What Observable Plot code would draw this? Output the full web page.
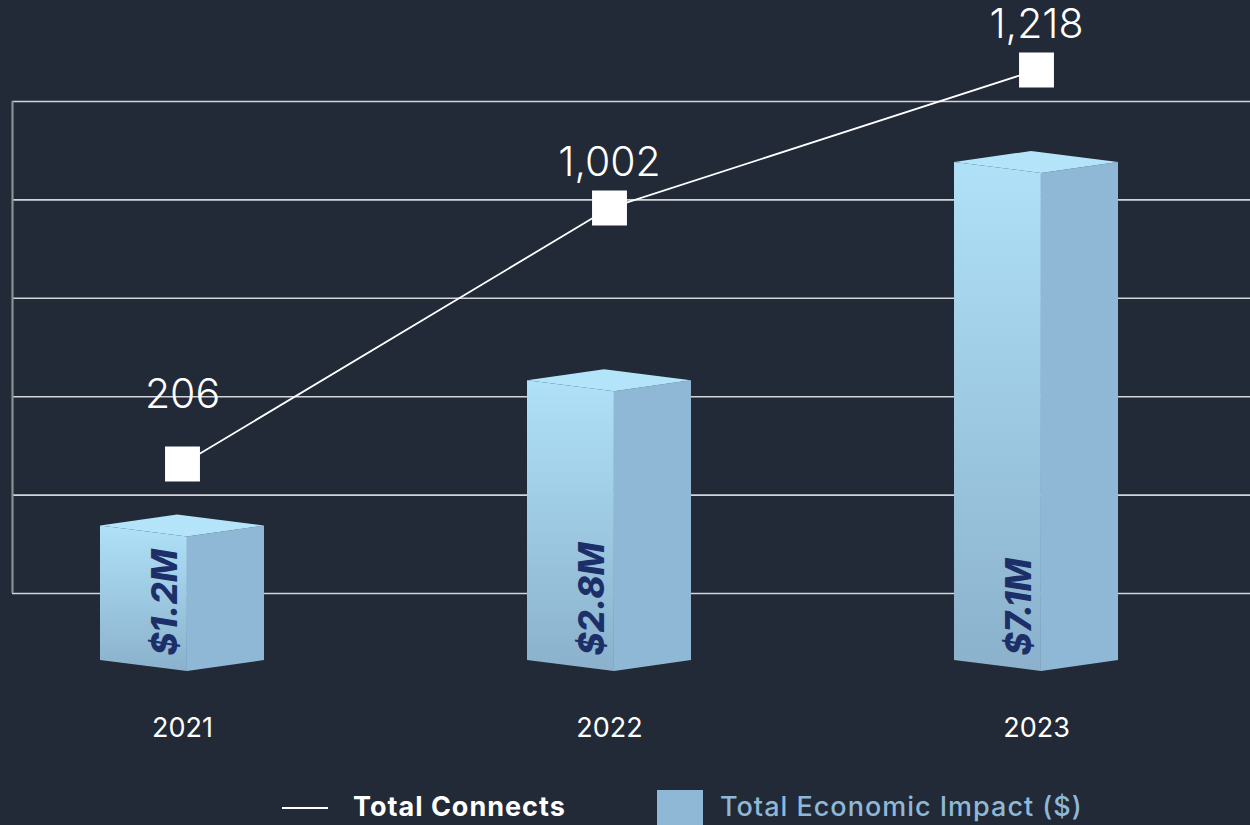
<!DOCTYPE html>
<html><head><meta charset="utf-8">
<script src="https://cdn.jsdelivr.net/npm/d3@7"></script>
<script src="https://cdn.jsdelivr.net/npm/@observablehq/plot@0.6"></script>
<style>
html,body{margin:0;padding:0;background:#222937;width:1250px;height:825px;overflow:hidden;}
#wrap{position:relative;width:1250px;height:825px;}
#wrap svg{position:absolute;left:0;top:0;}
.lg{position:absolute;white-space:nowrap;line-height:30px;font-size:27px;letter-spacing:1px;font-family:Inter,"Open Sans",sans-serif;}
</style></head><body>
<div id="wrap"></div>
<script>
// ---- data ----
const years = ["2021", "2022", "2023"];
const connects = [206, 1002, 1218];
const connectLabels = ["206", "1,002", "1,218"];
const impact = [1.2, 2.8, 7.1];
const impactLabels = ["$1.2M", "$2.8M", "$7.1M"];
const seriesNames = ["Total Connects", "Total Economic Impact ($)"];
const gridTicks = [0, 1, 2, 3, 4, 5];
const barFloor = 0.4;

const barData = years.map((y, i) => ({year: y, value: impact[i], label: impactLabels[i]}));
const lineData = years.map((y, i) => ({year: y, value: connects[i], label: connectLabels[i]}));

const wrap = document.getElementById("wrap");
const W = 1250, H = 770;
const baseStyle = {background: "transparent", color: "white", overflow: "visible"};
const font = "Inter, 'Open Sans', sans-serif";

// ---- grid layer ----
const grid = Plot.plot({
  width: W, height: H, margin: 0,
  style: baseStyle,
  x: {domain: [0, 1], range: [12, 1250], axis: null},
  y: {domain: [0, 5], range: [593, 101], axis: null},
  marks: [
    Plot.ruleY(gridTicks, {y: d => d, x1: 0, x2: 1, stroke: "#d3d5d8", strokeWidth: 1.6}),
    Plot.ruleX([0], {y1: 0, y2: 5, stroke: "#8c9096", strokeWidth: 2.2})
  ]
});
wrap.appendChild(grid);

// ---- bar layer ----
const bars = Plot.plot({
  width: W, height: H, marginTop: 0, marginLeft: 0, marginRight: 0, marginBottom: 70,
  style: baseStyle,
  x: {type: "band", domain: years, range: [-31.5, 1249.5], paddingInner: 0.616, paddingOuter: 0.308, label: null},
  y: {type: "pow", exponent: 0.35, domain: [barFloor, 7.1], range: [660, 162], axis: null},
  marks: [
    Plot.barY(barData, {x: "year", y1: barFloor, y2: "value", fill: "#8fb8d6"}),
    Plot.text(barData, {x: "year", y: barFloor, text: "label", rotate: -90, textAnchor: "start",
      dx: -17, dy: -5, fill: "#1c2f68", fontSize: 35, fontWeight: 800, fontStyle: "italic",
      fontFamily: font}),
    Plot.axisX({tickSize: 0, tickPadding: 17, fontSize: 27, fontFamily: font, label: null, fill: "white"})
  ]
});
// turn each bar rect into a 3D box (front, side, top faces) using the rect's scaled geometry
(function () {
  const svg = d3.select(bars);
  const defs = svg.insert("defs", ":first-child");
  const grad = defs.append("linearGradient").attr("id", "frontGrad")
    .attr("x1", 0).attr("y1", 0).attr("x2", 0).attr("y2", 1);
  grad.append("stop").attr("offset", "0%").attr("stop-color", "#afe1f8");
  grad.append("stop").attr("offset", "100%").attr("stop-color", "#8bb1cc");
  svg.selectAll("g[aria-label='bar'] rect").each(function () {
    const r = d3.select(this);
    const x = +r.attr("x"), y = +r.attr("y"), w = +r.attr("width"), h = +r.attr("height");
    const L = x, R = x + w, C = x + w * 0.53, Bk = L + R - C, T = y, Bo = y + h, s = 11;
    const g = d3.select(this.parentNode).insert("g", () => this);
    const pts = a => a.map(p => p.join(",")).join(" ");
    g.append("polygon").attr("points", pts([[L, T], [C, T + s], [C, Bo + s], [L, Bo]])).attr("fill", "url(#frontGrad)");
    g.append("polygon").attr("points", pts([[C, T + s], [R, T], [R, Bo], [C, Bo + s]])).attr("fill", "#8fb8d6");
    g.append("polygon").attr("points", pts([[L, T], [Bk, T - s], [R, T], [C, T + s]])).attr("fill", "#b3e4fa");
    r.remove();
  });
})();
wrap.appendChild(bars);

// ---- line layer ----
const line = Plot.plot({
  width: W, height: H, margin: 0,
  style: baseStyle,
  x: {type: "point", domain: years, range: [182, 1036], padding: 0, axis: null},
  y: {type: "pow", exponent: 2.15, domain: [206, 1218], range: [463.5, 69.5], axis: null},
  marks: [
    Plot.line(lineData, {x: "year", y: "value", stroke: "white", strokeWidth: 1.8}),
    Plot.dot(lineData, {x: "year", y: "value", symbol: "square", r: 19.7, fill: "white", stroke: null}),
    Plot.text(lineData.slice(0, 1), {x: "year", y: "value", text: "label", dy: -69, fill: "white",
      fontSize: 41, fontWeight: 300, fontFamily: font}),
    Plot.text(lineData.slice(1), {x: "year", y: "value", text: "label", dy: -45, fill: "white",
      fontSize: 41, fontWeight: 300, fontFamily: font})
  ]
});
wrap.appendChild(line);

// ---- legend ----
function addDiv(style, text) {
  const d = document.createElement("div");
  d.className = "lg";
  Object.assign(d.style, style);
  if (text) d.textContent = text;
  wrap.appendChild(d);
}
addDiv({left: "282px", top: "807px", width: "46px", height: "2px", background: "#ffffff"});
addDiv({left: "353px", top: "792px", color: "#ffffff", fontWeight: "700"}, seriesNames[0]);
addDiv({left: "657px", top: "790px", width: "46px", height: "46px", background: "#8fb8d6"});
addDiv({left: "720px", top: "792px", color: "#8fb8d6", fontWeight: "500"}, seriesNames[1]);
</script>
</body></html>
